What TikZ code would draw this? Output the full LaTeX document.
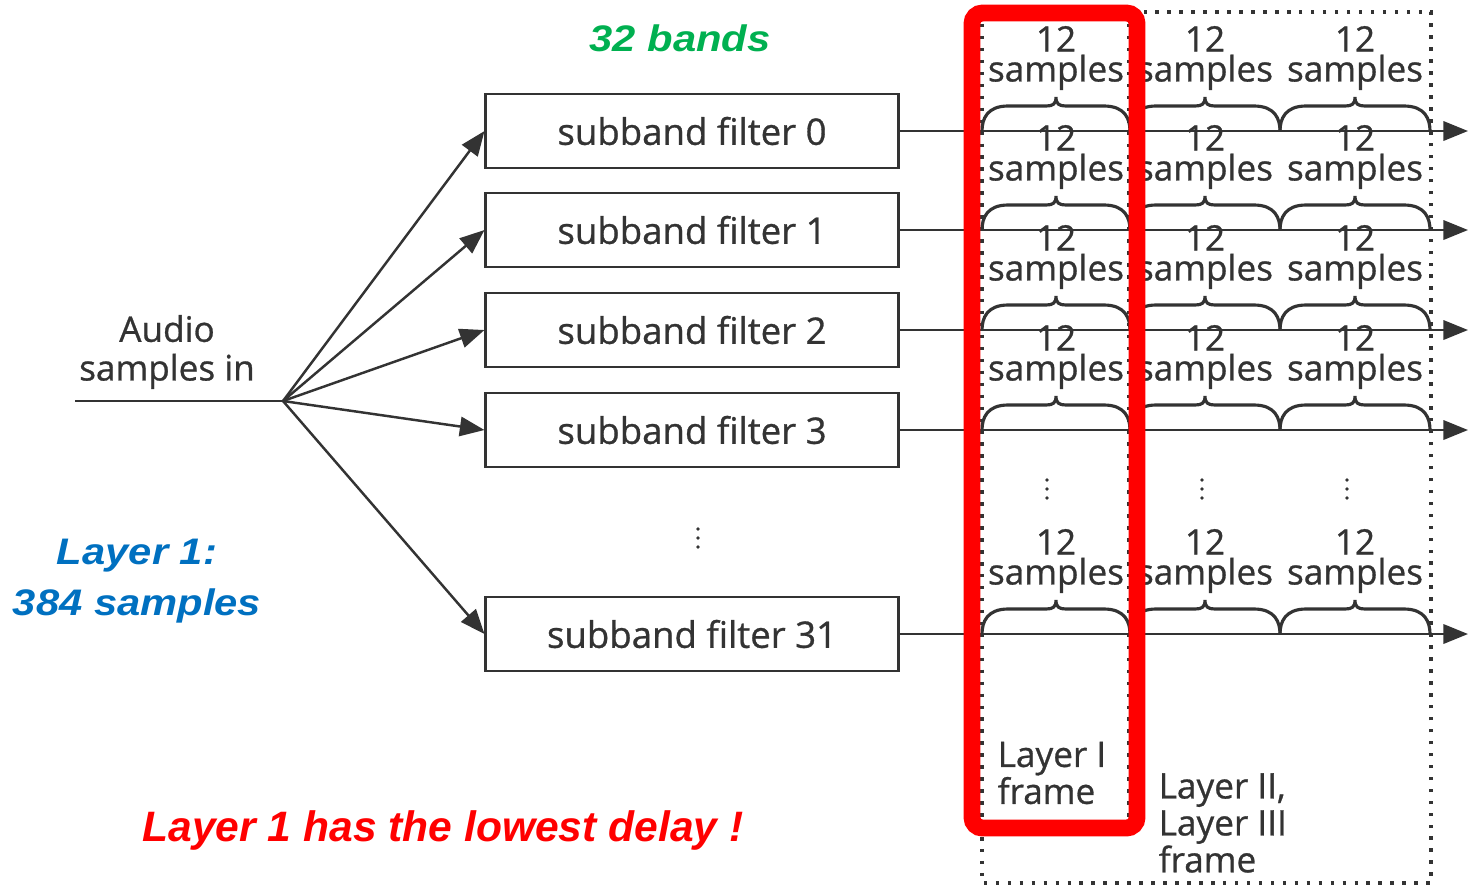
\documentclass[tikz,border=0pt]{standalone}
\usepackage{fontspec}
\usepackage{graphicx}
\usetikzlibrary{arrows.meta}
\newfontfamily\figfont{Open Sans}[FakeBold=0.8]
\newfontfamily\notefont{Liberation Sans}
\definecolor{bandgreen}{HTML}{00B050}
\definecolor{layerblue}{HTML}{0070C0}
\definecolor{ink}{HTML}{333333}
\newcommand{\widetext}[1]{\scalebox{1.13}[1]{#1}}
% brace over one block of 12 samples: #1 left x, #2 right x, #3 line y
\newcommand{\blockbrace}[3]{%
  \pgfmathsetmacro\bmid{(#1+#2)/2}
  \draw[ink, line width=0.9pt]
    (#1,#3) .. controls (#1,#3-12) and (#1+5,#3-25) .. (#1+26,#3-25)
    -- (\bmid-10,#3-25) .. controls (\bmid-3,#3-25) and (\bmid,#3-27) .. (\bmid,#3-34)
    .. controls (\bmid,#3-27) and (\bmid+3,#3-25) .. (\bmid+10,#3-25)
    -- (#2-26,#3-25) .. controls (#2-5,#3-25) and (#2,#3-12) .. (#2,#3);}

\begin{document}
\begin{tikzpicture}[x=0.01cm, y=-0.01cm,
    >={Triangle[length=7pt,width=5.5pt]},
    filterbox/.style={draw=ink, line width=0.8pt, minimum width=4.12cm,
      minimum height=0.74cm, text=ink, font=\figfont\fontsize{10.4}{12}\selectfont},
    wire/.style={ink, line width=0.7pt},
    lbl/.style={text=ink, inner sep=0pt, font=\figfont\fontsize{10}{8.5}\selectfont},
    frameline/.style={ink, line width=0.9pt, dash pattern=on 1pt off 2.4pt},
    note/.style={font=\notefont\bfseries\itshape\fontsize{10.5}{14.5}\selectfont}]
    \useasboundingbox (0,0) rectangle (1470,893);

    % Input line and fan-out point
    \coordinate (in) at (75,401);
    \coordinate (split) at (283,401);
    \node[lbl, align=center, font=\figfont\fontsize{10}{11}\selectfont] (audio) at (167,352) {Audio\\samples in};
    \draw[wire] (in) -- (split);

    % Frames (dotted): Layer II/III outer, Layer I inner
    \draw[frameline] (982,12) rectangle (1431,883);
    \draw[frameline] (1129,12) -- (1129,828);

    % Filters, outputs, blocks of 12 samples
    \foreach \n/\y in {0/131, 1/230, 2/330, 3/430, 31/634} {
        \node[filterbox] (f\n) at (692,\y) {subband filter \n};
        \coordinate (out\n) at (1468,\y);
        \draw[wire,->] (split) -- (f\n.west);
        \draw[wire,->] (f\n.east) -- (out\n);
        \foreach \xa/\xb in {982/1130, 1130/1280, 1280/1430} {
            \blockbrace{\xa}{\xb}{\y}
            \node[lbl, align=center] (blk\n-\xa) at ({(\xa+\xb)/2}, \y-73) {12\\samples};
        }
    }

    % Vertical dots for the skipped bands
    \foreach \d in {0, 9, 18} {
        \fill[ink] (698,529+\d) circle (1.8);
        \foreach \x in {1047, 1202, 1347}
            \fill[ink] (\x,480+\d) circle (1.8);
    }

    % Frame labels
    \node[lbl, align=left, anchor=west, font=\figfont\fontsize{10}{10.5}\selectfont] (frameI) at (997,773) {Layer I\\frame};
    \node[lbl, align=left, anchor=west, font=\figfont\fontsize{10}{10.5}\selectfont] (frameII) at (1158,823) {Layer II,\\Layer III\\frame};

    % Layer I frame highlight
    \draw[red, line width=4.8pt, rounded corners=3pt] (972,13) rectangle (1137,828);

    % Notes
    \node[note, text=bandgreen] (bands) at (680,38) {\widetext{32 bands}};
    \node[note, text=layerblue, align=center] (layer1) at (137,581) {\widetext{Layer 1:}\\\widetext{384 samples}};
    \node[note, text=red, font=\notefont\bfseries\itshape\fontsize{12.1}{14}\selectfont] (delay) at (443,830) {Layer 1 has the lowest delay !};
\end{tikzpicture}
\end{document}
